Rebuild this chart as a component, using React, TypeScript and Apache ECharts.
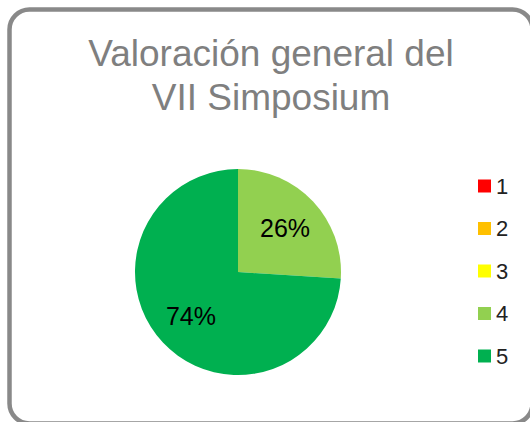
import React, { useEffect, useRef } from "react";
import * as echarts from "echarts";

const titleText = "Valoración general del\nVII Simposium";
const categories = ["1", "2", "3", "4", "5"];
const values = [0, 0, 0, 26, 74];
const colors = ["#FF0000", "#FFC000", "#FFFF00", "#92D050", "#00B050"];

export default function App() {
  const ref = useRef<HTMLDivElement>(null);
  useEffect(() => {
    if (!ref.current) return;
    const chart = echarts.init(ref.current, null, { renderer: "svg" });
    const data = categories.map((c, i) => ({
      name: c,
      value: values[i],
      itemStyle: { color: colors[i] },
    }));
    chart.setOption({
      animation: false,
      backgroundColor: "#ffffff",
      graphic: [
        {
          type: "rect",
          shape: { x: 9.5, y: 9.5, width: 523, height: 414, r: 20 },
          style: { fill: "none", stroke: "#898989", lineWidth: 4.5 },
          silent: true,
          z: 0,
        },
      ],
      title: {
        text: titleText,
        left: 271,
        textAlign: "center",
        top: 31,
        padding: 0,
        textStyle: {
          color: "#7f7f7f",
          fontFamily: "Liberation Sans, Arial, sans-serif",
          fontSize: 37,
          fontWeight: "normal",
          lineHeight: 44,
        },
      },
      legend: {
        orient: "vertical",
        left: 478,
        top: 175,
        padding: 0,
        itemWidth: 13,
        itemHeight: 13,
        itemGap: 20.5,
        icon: "rect",
        selectedMode: false,
        data: categories.map((c, i) => ({ name: c, itemStyle: { color: colors[i] } })),
        textStyle: {
          color: "#222222",
          fontFamily: "Liberation Sans, Arial, sans-serif",
          fontSize: 22,
          lineHeight: 22,
        },
      },
      series: [
        {
          type: "pie",
          center: [238, 272],
          radius: [0, 103],
          startAngle: 90,
          clockwise: true,
          label: { show: false },
          labelLine: { show: false },
          emphasis: { disabled: true },
          data,
        },
        {
          type: "pie",
          center: [238, 272],
          radius: [20, 103],
          startAngle: 90,
          clockwise: true,
          silent: true,
          legendHoverLink: false,
          itemStyle: { color: "rgba(0,0,0,0)" },
          label: {
            show: true,
            position: "inside",
            formatter: (p: any) => (p.value > 0 ? `${p.percent}%` : ""),
            color: "#000000",
            fontFamily: "Liberation Sans, Arial, sans-serif",
            fontSize: 25,
          },
          labelLine: { show: false },
          emphasis: { disabled: true },
          data: categories.map((c, i) => ({ name: c, value: values[i] })),
        },
      ],
    });
    return () => chart.dispose();
  }, []);
  return (
    <div
      ref={ref}
      style={{ position: "absolute", left: 0, top: 0, width: 530, height: 422 }}
    />
  );
}
